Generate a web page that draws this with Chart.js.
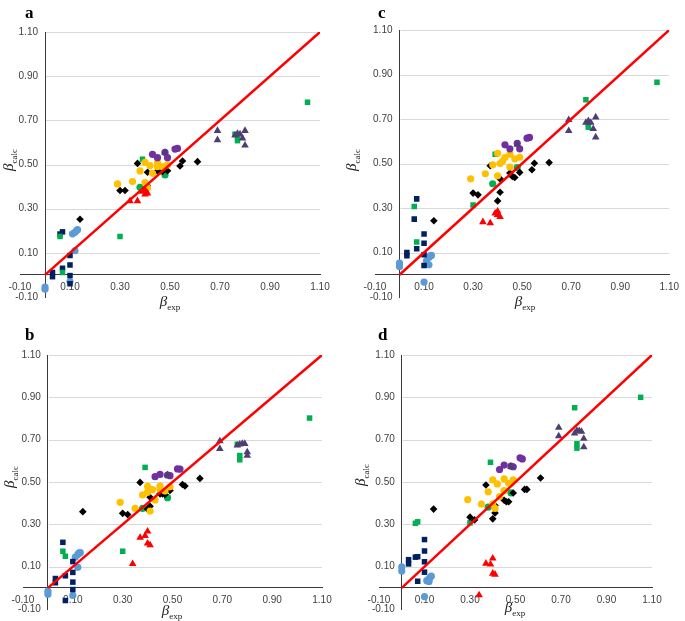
<!DOCTYPE html>
<html>
<head>
<meta charset="utf-8">
<script src="https://cdn.jsdelivr.net/npm/chart.js@4.4.1/dist/chart.umd.min.js"></script>
<style>
  body { margin: 0; background: #fff; }
  #page { position: relative; width: 685px; height: 621px; overflow: hidden; font-family: "Liberation Serif", "DejaVu Serif", serif; }
  canvas { position: absolute; }
  .tag { position: absolute; font-weight: bold; font-size: 17px; line-height: 17px; }
  .xt, .yt { position: absolute; font-size: 15px; line-height: 15px; white-space: nowrap; color: #222; }
  .xt { transform: translateX(-50%); }
  .yt { transform: translate(-50%, -50%) rotate(-90deg); }
  .xt sub, .yt sub { font-size: 9px; }
</style>
</head>
<body>
<div id="page">
  <canvas id="chartA" width="342" height="312" style="left:0;top:0"></canvas>
  <canvas id="chartC" width="343" height="312" style="left:342px;top:0"></canvas>
  <canvas id="chartB" width="342" height="309" style="left:0;top:312px"></canvas>
  <canvas id="chartD" width="343" height="309" style="left:342px;top:312px"></canvas>

  <div class="tag" style="left:25px;top:4px">a</div>
  <div class="tag" style="left:378px;top:4px">c</div>
  <div class="tag" style="left:25px;top:326px">b</div>
  <div class="tag" style="left:378px;top:326px">d</div>

  <div class="xt" style="left:170px;top:294px"><i>β</i><sub>exp</sub></div>
  <div class="xt" style="left:525px;top:294px"><i>β</i><sub>exp</sub></div>
  <div class="xt" style="left:172px;top:603px"><i>β</i><sub>exp</sub></div>
  <div class="xt" style="left:515px;top:600px"><i>β</i><sub>exp</sub></div>

  <div class="yt" style="left:11px;top:160px"><i>β</i><sub>calc</sub></div>
  <div class="yt" style="left:354px;top:160px"><i>β</i><sub>calc</sub></div>
  <div class="yt" style="left:12px;top:477px"><i>β</i><sub>calc</sub></div>
  <div class="yt" style="left:363px;top:475px"><i>β</i><sub>calc</sub></div>
</div>

<script>
// ticks shared by both axes of every panel
const tickValues = [-0.1, 0.1, 0.3, 0.5, 0.7, 0.9, 1.1];
// y = x reference line
const lineEnds = [0, 1.1];

// beta_exp values (same in the four panels) and beta_calc for panels a, b, c, d
const lightBlueX = [0, 0, 0.10, 0.11, 0.12, 0.125, 0.13, 0.12];
const lightBlueA = [-0.055, -0.065, -0.03, 0.186, 0.193, 0.200, 0.205, 0.11];
const lightBlueB = [-0.016, -0.03, -0.036, 0.145, 0.158, 0.165, 0.166, 0.097];
const lightBlueC = [0.052, 0.037, -0.033, 0.063, 0.078, 0.085, 0.087, 0.045];
const lightBlueD = [0.099, 0.079, -0.042, 0.034, 0.042, 0.05, 0.055, 0.03];

const navyX = [0.03, 0.03, 0.06, 0.07, 0.07, 0.10, 0.10, 0.10, 0.10];
const navyA = [0.011, -0.008, 0.185, 0.195, 0.03, 0.088, 0.045, -0.003, -0.04];
const navyB = [0.044, 0.024, 0.215, 0.057, -0.06, 0.124, 0.073, 0.027, -0.008];
const navyC = [0.10, 0.085, 0.25, 0.341, 0.117, 0.183, 0.142, 0.09, 0.042];
const navyD = [0.133, 0.113, 0.145, 0.147, 0.031, 0.228, 0.174, 0.123, 0.074];

const greenSqX = [0.06, 0.07, 0.30, 0.39, 0.76, 0.77, 0.77, 1.05];
const greenSqA = [0.174, 0.011, 0.174, 0.524, 0.637, 0.608, 0.625, 0.782];
const greenSqB = [0.173, 0.149, 0.173, 0.569, 0.678, 0.625, 0.605, 0.802];
const greenSqC = [0.307, 0.147, 0.314, 0.542, 0.786, 0.663, 0.675, 0.865];
const greenSqD = [0.305, 0.312, 0.307, 0.593, 0.851, 0.681, 0.66, 0.900];

const greenDotX = [0.38, 0.48];
const greenDotA = [0.397, 0.453];
const greenDotB = [0.375, 0.426];
const greenDotC = [0.409, 0.482];
const greenDotD = [0.381, 0.449];

const blackX = [0.14, 0.30, 0.32, 0.37, 0.40, 0.41, 0.41, 0.45, 0.46, 0.47, 0.49, 0.54, 0.55, 0.61];
const blackA = [0.252, 0.382, 0.382, 0.505, 0.39, 0.465, 0.404, 0.471, 0.471, 0.468, 0.472, 0.493, 0.516, 0.513];
const blackB = [0.36, 0.352, 0.346, 0.498, 0.372, 0.428, 0.385, 0.444, 0.444, 0.441, 0.46, 0.488, 0.481, 0.517];
const blackC = [0.243, 0.367, 0.359, 0.49, 0.332, 0.431, 0.371, 0.457, 0.442, 0.437, 0.46, 0.472, 0.501, 0.504];
const blackD = [0.372, 0.334, 0.321, 0.486, 0.326, 0.389, 0.354, 0.414, 0.407, 0.407, 0.448, 0.465, 0.465, 0.519];

const yellowX = [0.29, 0.35, 0.38, 0.40, 0.40, 0.41, 0.42, 0.43, 0.45, 0.45, 0.47, 0.49];
const yellowA = [0.412, 0.423, 0.471, 0.51, 0.418, 0.395, 0.495, 0.46, 0.508, 0.49, 0.49, 0.498];
const yellowB = [0.404, 0.375, 0.439, 0.48, 0.452, 0.363, 0.464, 0.415, 0.481, 0.465, 0.457, 0.477];
const yellowC = [0.431, 0.454, 0.494, 0.546, 0.445, 0.50, 0.51, 0.527, 0.542, 0.484, 0.521, 0.528];
const yellowD = [0.417, 0.396, 0.454, 0.51, 0.397, 0.375, 0.491, 0.431, 0.515, 0.459, 0.494, 0.51];

const purpleX = [0.43, 0.45, 0.48, 0.49, 0.52, 0.53];
const purpleA = [0.546, 0.531, 0.555, 0.531, 0.57, 0.573];
const purpleB = [0.525, 0.536, 0.533, 0.53, 0.562, 0.561];
const purpleC = [0.584, 0.566, 0.591, 0.566, 0.614, 0.617];
const purpleD = [0.559, 0.58, 0.575, 0.572, 0.614, 0.609];

const redX = [0.34, 0.37, 0.39, 0.40, 0.40, 0.41];
const redA = [0.335, 0.335, 0.377, 0.385, 0.365, 0.37];
const redB = [0.113, 0.237, 0.246, 0.267, 0.21, 0.202];
const redC = [0.237, 0.232, 0.276, 0.285, 0.269, 0.26];
const redD = [-0.034, 0.115, 0.111, 0.139, 0.068, 0.063];

const darkTriX = [0.48, 0.69, 0.69, 0.76, 0.77, 0.78, 0.79, 0.80, 0.80];
const darkTriA = [0.554, 0.653, 0.611, 0.632, 0.64, 0.637, 0.619, 0.653, 0.587];
const darkTriB = [0.533, 0.693, 0.657, 0.673, 0.678, 0.681, 0.681, 0.641, 0.625];
const darkTriC = [0.585, 0.696, 0.647, 0.684, 0.691, 0.684, 0.656, 0.708, 0.618];
const darkTriD = [0.572, 0.757, 0.717, 0.73, 0.743, 0.741, 0.738, 0.705, 0.665];

// marker look of each series
const series = [
  { x: darkTriX, y: { a: darkTriA, b: darkTriB, c: darkTriC, d: darkTriD }, color: '#4e3f72', style: 'triangle', r: 4.4 },
  { x: redX, y: { a: redA, b: redB, c: redC, d: redD }, color: '#ff0000', style: 'triangle', r: 4.4 },
  { x: purpleX, y: { a: purpleA, b: purpleB, c: purpleC, d: purpleD }, color: '#7030a0', style: 'circle', r: 3.6 },
  { x: yellowX, y: { a: yellowA, b: yellowB, c: yellowC, d: yellowD }, color: '#ffc000', style: 'circle', r: 3.6 },
  { x: blackX, y: { a: blackA, b: blackB, c: blackC, d: blackD }, color: '#000000', style: 'rectRot', r: 3.8 },
  { x: greenDotX, y: { a: greenDotA, b: greenDotB, c: greenDotC, d: greenDotD }, color: '#00b050', style: 'circle', r: 3.6 },
  { x: greenSqX, y: { a: greenSqA, b: greenSqB, c: greenSqC, d: greenSqD }, color: '#00b050', style: 'rect', r: 3.9 },
  { x: navyX, y: { a: navyA, b: navyB, c: navyC, d: navyD }, color: '#002060', style: 'rect', r: 3.9 },
  { x: lightBlueX, y: { a: lightBlueA, b: lightBlueB, c: lightBlueC, d: lightBlueD }, color: '#5b9bd5', style: 'circle', r: 3.6 }
];

// where each plot area sits inside its canvas
const panels = [
  { key: 'a', id: 'chartA', pad: { left: 20, right: 22, top: 32, bottom: 15 } },
  { key: 'c', id: 'chartC', pad: { left: 33, right: 10, top: 30, bottom: 15 } },
  { key: 'b', id: 'chartB', pad: { left: 23, right: 20, top: 43, bottom: 6 } },
  { key: 'd', id: 'chartD', pad: { left: 37, right: 33, top: 43, bottom: 6 } }
];

function zip(xs, ys) {
  return xs.map((v, i) => ({ x: v, y: ys[i] }));
}

// horizontal grid lines that start at the vertical axis (x = 0)
const gridFromAxis = {
  id: 'gridFromAxis',
  beforeDatasetsDraw(chart) {
    const { ctx, scales } = chart;
    const x0 = scales.x.getPixelForValue(lineEnds[0]);
    const x1 = scales.x.getPixelForValue(lineEnds[1]);
    ctx.save();
    ctx.strokeStyle = '#d9d9d9';
    ctx.lineWidth = 1;
    scales.y.ticks.forEach(t => {
      if (t.value <= 0) return;
      const py = Math.round(scales.y.getPixelForValue(t.value)) + 0.5;
      ctx.beginPath();
      ctx.moveTo(x0 + 1, py);
      ctx.lineTo(x1, py);
      ctx.stroke();
    });
    ctx.restore();
  }
};

function axisOptions(crossAt, vertical) {
  return {
    type: 'linear',
    position: crossAt,
    min: tickValues[0],
    max: tickValues[tickValues.length - 1],
    afterBuildTicks: s => { s.ticks = tickValues.map(v => ({ value: v })); },
    afterFit: s => { if (s.isHorizontal()) s.height = 0; else s.width = 0; },
    grid: { display: false, drawTicks: false },
    border: { display: true, color: '#3a3a3a', width: 1 },
    ticks: {
      autoSkip: false,
      maxRotation: 0,
      padding: 6,
      color: '#404040',
      font: { family: 'Liberation Sans', size: 10 },
      // labels of the vertical axis sit right against it, so leave a small gap
      callback: v => vertical ? v.toFixed(2) + '\u2002\u2009' : v.toFixed(2)
    }
  };
}

panels.forEach(p => {
  const datasets = [{
    type: 'line',
    data: zip(lineEnds, lineEnds),
    borderColor: '#ff0000',
    borderWidth: 2.5,
    pointRadius: 0,
    fill: false
  }];
  series.forEach(s => {
    datasets.push({
      data: zip(s.x, s.y[p.key]),
      backgroundColor: s.color,
      pointStyle: s.style,
      pointRadius: s.r,
      pointBorderWidth: 0
    });
  });

  new Chart(document.getElementById(p.id), {
    type: 'scatter',
    data: { datasets: datasets },
    options: {
      responsive: false,
      animation: false,
      devicePixelRatio: 1,
      layout: { padding: p.pad },
      plugins: { legend: { display: false }, tooltip: { enabled: false } },
      scales: {
        x: axisOptions({ y: 0 }, false),
        y: axisOptions({ x: 0 }, true)
      }
    },
    plugins: [gridFromAxis]
  });
});
</script>
</body>
</html>
